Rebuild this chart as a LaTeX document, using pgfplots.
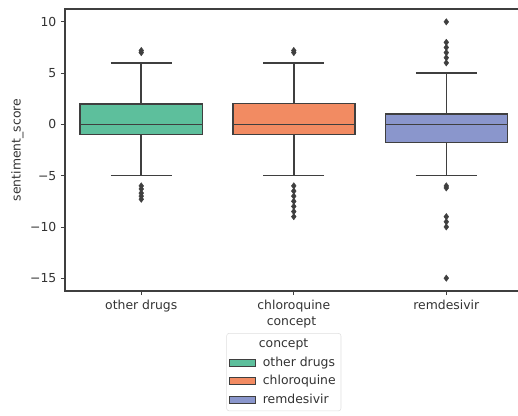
\documentclass[border=0pt]{standalone}
\usepackage{fontspec}
\setmainfont{DejaVu Sans}
\usepackage{pgfplots}
\pgfplotsset{compat=1.18}
\usepgfplotslibrary{statistics}
\definecolor{cgreen}{HTML}{5DBF9C}
\definecolor{corange}{HTML}{F28B62}
\definecolor{cblue}{HTML}{8A96CC}
\definecolor{edge}{HTML}{3F3F3F}
\begin{document}
\begin{tikzpicture}
\begin{axis}[
  name=main,
  at={(0,0)}, anchor=south west,
  scale only axis,
  width=339.75pt, height=211.5pt,
  xmin=-0.5, xmax=2.47,
  ymin=-16.25, ymax=11.25,
  xtick={0,1,2},
  xticklabels={other drugs,chloroquine,remdesivir},
  ytick={-15,-10,-5,0,5,10},
  yticklabels={−15,−10,−5,0,5,10},
  tick align=outside,
  tick pos=left,
  major tick length=3pt,
  tick style={edge, line width=0.6pt},
  axis line style={draw=none},
  ticklabel style={font=\fontsize{9.3}{11}\selectfont, text=black!80},
  label style={font=\fontsize{9.3}{11}\selectfont, text=black!80},
  xlabel={concept},
  ylabel={sentiment\_score},
  xlabel style={yshift=3pt},
  ylabel style={yshift=-2pt},
  clip=false,
  boxplot/draw direction=y,
  boxplot/box extend=0.8,
  boxplot/whisker extend=0.4,
  legend style={at={(0.483,-0.149)}, anchor=north, draw=gray!25, rounded corners=2pt,
    font=\fontsize{9.3}{11}\selectfont, text=black!80, row sep=1.5pt, inner sep=2pt},
  legend cell align=left,
]
\addlegendimage{empty legend}
\addlegendentry{\hspace{-3pt}concept}
\addlegendimage{legend image code/.code={\draw[sharp corners, fill=cgreen, draw=edge, line width=0.4pt] (0pt,-2.6pt) rectangle (19pt,2.6pt); \path[draw=none, fill=none] (0pt,0pt) -- (23pt,0pt);}}
\addlegendentry{other drugs}
\addlegendimage{legend image code/.code={\draw[sharp corners, fill=corange, draw=edge, line width=0.4pt] (0pt,-2.6pt) rectangle (19pt,2.6pt); \path[draw=none, fill=none] (0pt,0pt) -- (23pt,0pt);}}
\addlegendentry{chloroquine}
\addlegendimage{legend image code/.code={\draw[sharp corners, fill=cblue, draw=edge, line width=0.4pt] (0pt,-2.6pt) rectangle (19pt,2.6pt); \path[draw=none, fill=none] (0pt,0pt) -- (23pt,0pt);}}
\addlegendentry{remdesivir}

\addplot[boxplot prepared={draw position=0, median=0, upper quartile=2, lower quartile=-1, upper whisker=6, lower whisker=-5},
  fill=cgreen, draw=edge, line width=1.15pt, mark=diamond*, mark size=2.4pt, mark options={fill=edge, draw=edge, line width=0.3pt}]
  table[row sep=\\, y index=0] {7\\ 7.2\\ -6\\ -6.3\\ -6.7\\ -7\\ -7.3\\};
\addplot[boxplot prepared={draw position=1, median=0, upper quartile=2.05, lower quartile=-1, upper whisker=6, lower whisker=-5},
  fill=corange, draw=edge, line width=1.15pt, mark=diamond*, mark size=2.4pt, mark options={fill=edge, draw=edge, line width=0.3pt}]
  table[row sep=\\, y index=0] {7\\ 7.2\\ -6\\ -6.5\\ -7\\ -7.5\\ -8\\ -8.5\\ -9\\};
\addplot[boxplot prepared={draw position=2, median=0, upper quartile=1, lower quartile=-1.75, upper whisker=5, lower whisker=-5},
  fill=cblue, draw=edge, line width=1.15pt, mark=diamond*, mark size=2.4pt, mark options={fill=edge, draw=edge, line width=0.3pt}]
  table[row sep=\\, y index=0] {10\\ 8\\ 7.5\\ 7\\ 6.5\\ 6\\ -6\\ -6.2\\ -9\\ -9.5\\ -10\\ -15\\};

\draw[edge, line width=0.8pt] (rel axis cs:1,0) -- (rel axis cs:0,0) -- (rel axis cs:0,1) -- (rel axis cs:1,1);
\end{axis}
\pgfresetboundingbox
\path[use as bounding box] (-48.75pt,-93pt) rectangle (339.75pt,218.25pt);
\end{tikzpicture}
\end{document}
